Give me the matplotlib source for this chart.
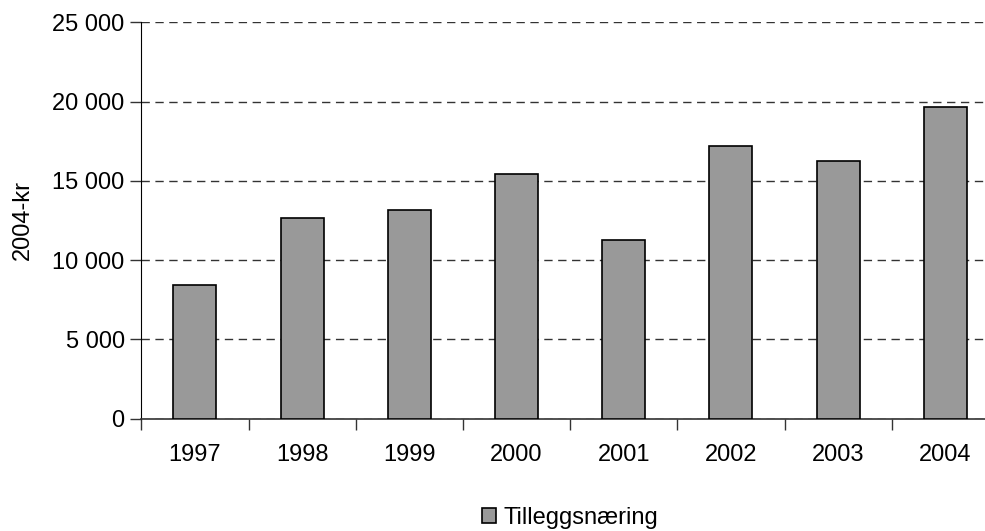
import numpy as np
import matplotlib
matplotlib.use("Agg")
import matplotlib.pyplot as plt
from matplotlib.ticker import FuncFormatter

plt.rcParams['font.family'] = ['Liberation Sans', 'DejaVu Sans']

years = ['1997', '1998', '1999', '2000', '2001', '2002', '2003', '2004']
values = [8410, 12680, 13160, 15410, 11270, 17200, 16230, 19680]
series_name = 'Tilleggsnæring'

fig = plt.figure(figsize=(9.85, 5.31), dpi=100)
# plot area runs a bit past the right edge, as in the original
ax = fig.add_axes([141.3 / 985, 1 - 418.7 / 531, 857.6 / 985, 396.4 / 531])

x = np.arange(len(years))
ax.bar(x, values, width=0.40, color='#999999', edgecolor='black',
       linewidth=1.2, label=series_name, zorder=3)

ax.set_xlim(-0.5, len(years) - 0.5)
ax.set_ylim(0, 25000)
ax.set_yticks(np.arange(0, 25001, 5000))
ax.yaxis.set_major_formatter(FuncFormatter(lambda v, p: f"{int(v):,}".replace(',', ' ')))
ax.set_xticks(x)
ax.set_xticklabels(years)
ax.set_xticks(np.arange(-0.5, len(years) + 0.5, 1), minor=True)
ax.tick_params(axis='x', which='major', length=0, pad=18, labelsize=17)
ax.tick_params(axis='x', which='minor', length=8, width=1, color='#333333', direction='out')
ax.tick_params(axis='y', length=8, width=1, color='#333333', labelsize=17, pad=4)

ax.grid(axis='y', linestyle=(0, (6, 4)), color='#333333', linewidth=1, zorder=0)
for s in ['top', 'right']:
    ax.spines[s].set_visible(False)
ax.spines['left'].set_color('black')
ax.spines['bottom'].set_color('#333333')
ax.spines['bottom'].set_linewidth(1.2)

ax.set_ylabel('2004-kr', fontsize=17)
ax.yaxis.set_label_coords(-0.125, 0.5)

leg = ax.legend(loc='center', bbox_to_anchor=(0.5, -0.25), frameon=False,
                fontsize=17, handlelength=0.6, handleheight=0.6, handletextpad=0.3)

fig.savefig('out.png', dpi=100)
